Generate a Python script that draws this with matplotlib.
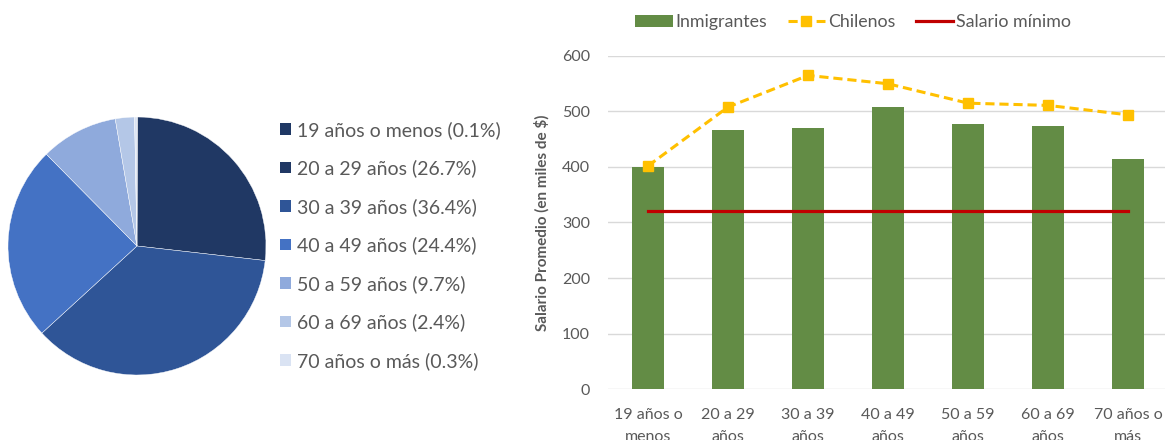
import matplotlib
matplotlib.use("Agg")
import matplotlib.pyplot as plt
from matplotlib.patches import Patch
from matplotlib.lines import Line2D

plt.rcParams['font.family'] = ['Lato', 'DejaVu Sans']

# Pie data
age_groups = ["19 años o menos", "20 a 29 años", "30 a 39 años", "40 a 49 años",
              "50 a 59 años", "60 a 69 años", "70 años o más"]
age_pct = [0.1, 26.7, 36.4, 24.4, 9.7, 2.4, 0.3]
pie_colors = ["#1F3864", "#203864", "#2F5597", "#4472C4", "#8FAADC", "#B4C7E7", "#DAE3F3"]

# Bar/line data
categories = ["19 años o\nmenos", "20 a 29\naños", "30 a 39\naños", "40 a 49\naños",
              "50 a 59\naños", "60 a 69\naños", "70 años o\nmás"]
inmigrantes = [400, 467, 471, 508, 477, 474, 415]
chilenos = [402, 508, 565, 550, 515, 511, 494]
salario_minimo = [320] * 7
yticks = [0, 100, 200, 300, 400, 500, 600]

W, H = 1165, 440
fig = plt.figure(figsize=(W / 100, H / 100), dpi=100)

# ---- Pie ----
cx, cy, r = 137, 246, 129
axp = fig.add_axes([(cx - r) / W, (H - cy - r) / H, 2 * r / W, 2 * r / H])
wedges, _ = axp.pie(age_pct, colors=pie_colors, startangle=90, counterclock=False,
                    wedgeprops=dict(edgecolor="white", linewidth=0.3))
axp.set_xlim(-1, 1)
axp.set_ylim(-1, 1)
axp.set_aspect("equal")
labels = [f"{g} ({p}%)" for g, p in zip(age_groups, age_pct)]
handles = [Patch(facecolor=c, edgecolor="none") for c in pie_colors]
fig.legend(handles, labels, loc="upper left", bbox_to_anchor=(280 / W, 1 - 121 / H),
           frameon=False, fontsize=14, handlelength=0.55, handleheight=0.55,
           handletextpad=0.3, labelspacing=1.06, labelcolor="#595959",
           borderaxespad=0, borderpad=0)

# ---- Bar chart ----
left, right = 608, 1168
top, bottom = 56, 389
ax = fig.add_axes([left / W, (H - bottom) / H, (right - left) / W, (bottom - top) / H])
x = list(range(len(categories)))
ax.bar(x, inmigrantes, width=0.4, color="#638C45", zorder=2, label="Inmigrantes")
ax.plot(x, chilenos, color="#FFC000", linestyle=(0, (3, 1.6)), linewidth=2.2,
        marker="s", markersize=7.5, zorder=3, label="Chilenos")
ax.plot(x, salario_minimo, color="#C00000", linewidth=2.3, zorder=3, label="Salario mínimo")
ax.set_xlim(-0.5, len(categories) - 0.5)
ax.set_ylim(0, 600)
ax.set_yticks(yticks)
ax.set_xticks(x)
ax.set_xticklabels(categories, fontsize=11.5, color="#595959", linespacing=1.65)
ax.tick_params(axis="y", labelsize=11.5, labelcolor="#595959", length=0, pad=13)
ax.tick_params(axis="x", length=0, pad=14)
ax.grid(axis="y", color="#D9D9D9", linewidth=1, zorder=0)
for s in ax.spines.values():
    s.set_visible(False)
ax.set_ylabel("Salario Promedio (en miles de $)", fontsize=11, fontweight="bold",
              color="#595959", labelpad=9)

leg_handles = [Patch(facecolor="#638C45"),
               Line2D([], [], color="#FFC000", linestyle=(0, (3, 1.6)), linewidth=2.2,
                      marker="s", markersize=7.5),
               Line2D([], [], color="#C00000", linewidth=2.3)]
fig.legend(leg_handles, ["Inmigrantes", "Chilenos", "Salario mínimo"], ncol=3,
           loc="center", bbox_to_anchor=(853 / W, 1 - 22 / H), frameon=False,
           fontsize=12.8, labelcolor="#595959", handlelength=2.1, handleheight=0.65,
           handletextpad=0.15, columnspacing=1.15)

fig.savefig("out.png", dpi=100)
